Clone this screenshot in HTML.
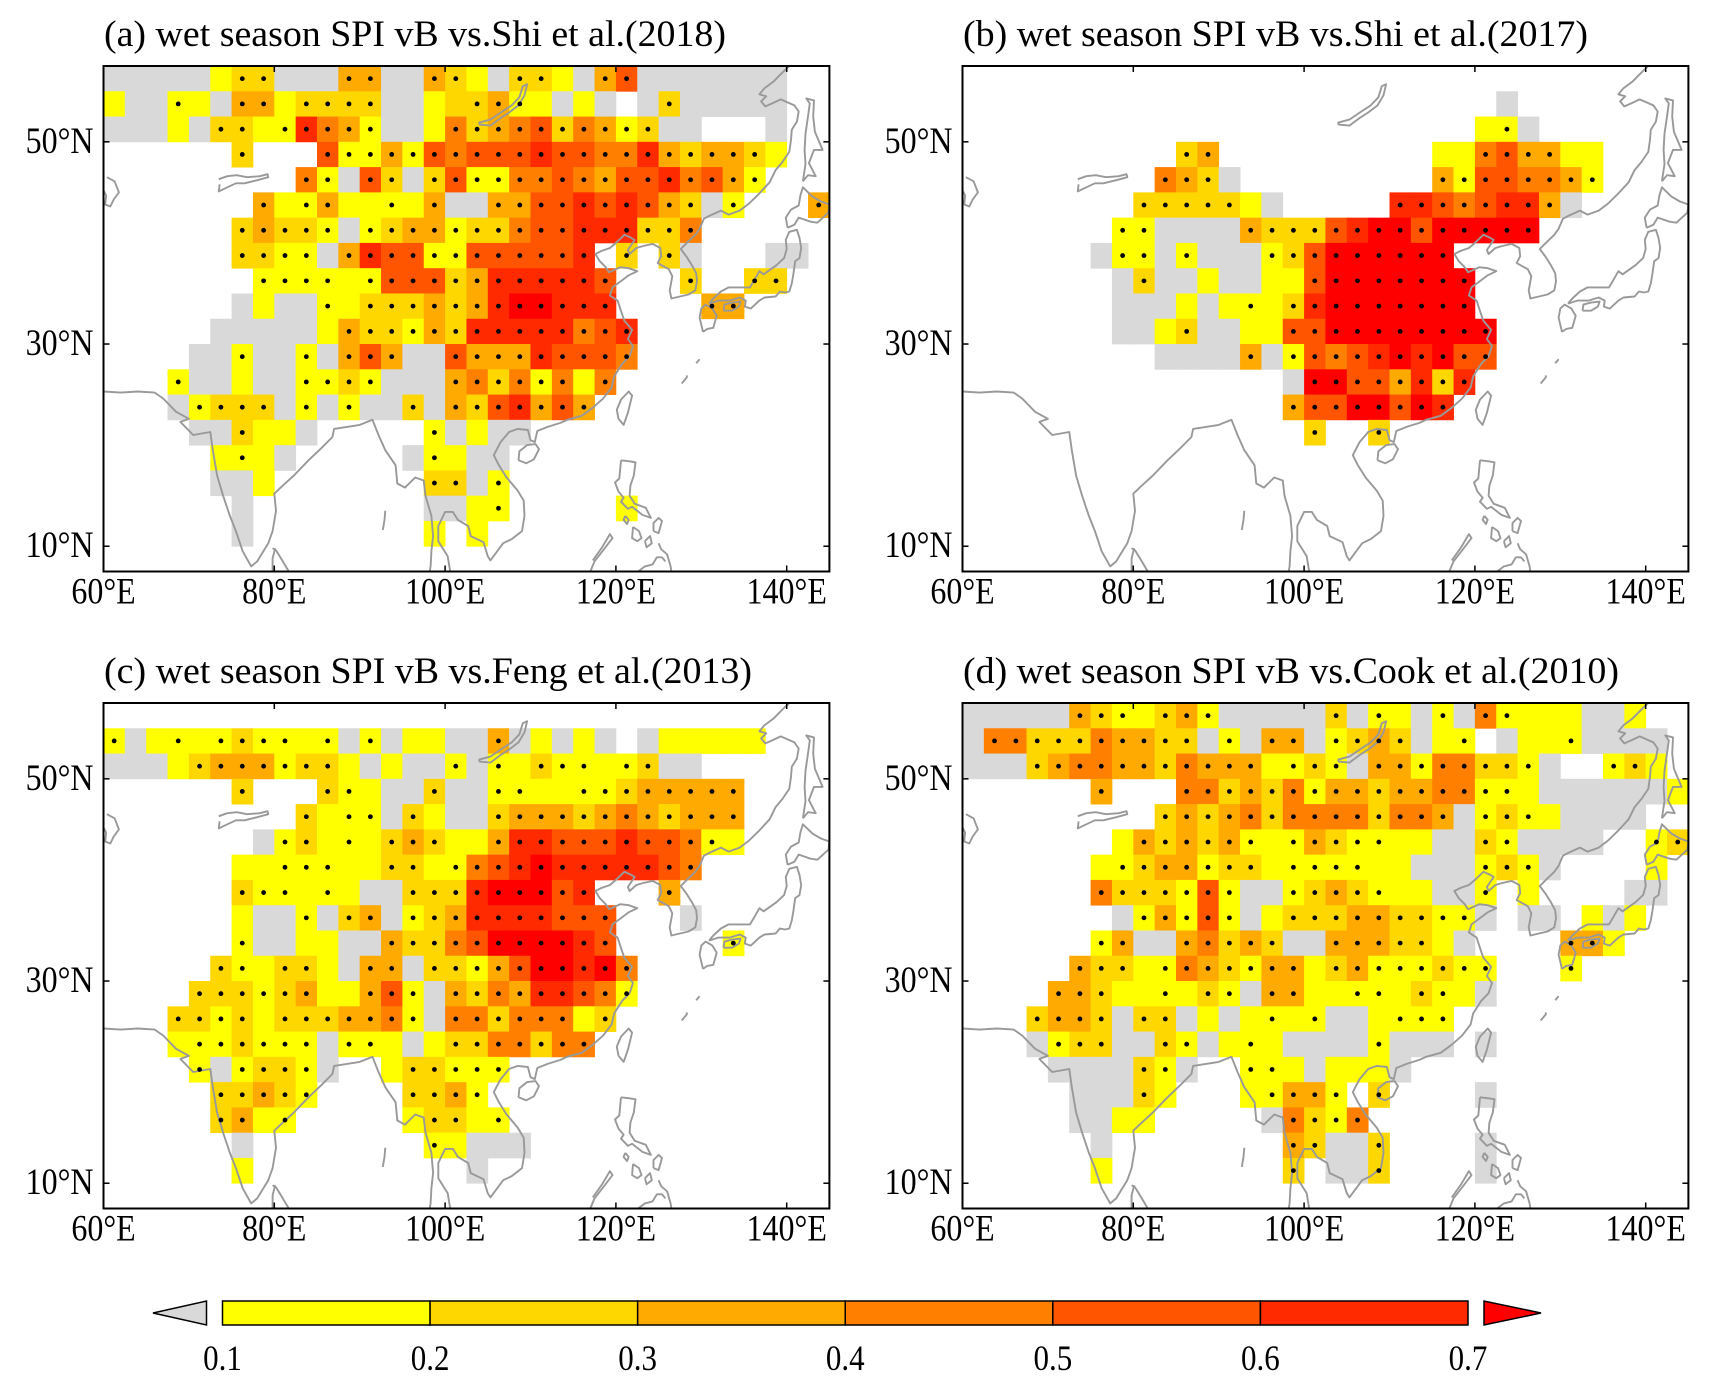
<!DOCTYPE html>
<html><head><meta charset="utf-8"><style>
html,body{margin:0;padding:0;background:#fff;}
svg{display:block;font-family:"Liberation Serif",serif;}
</style></head><body>
<svg id="fig" width="1709" height="1387" viewBox="0 0 1709 1387" xmlns="http://www.w3.org/2000/svg">
<defs>
<clipPath id="clipA"><rect x="103.5" y="66" width="725.9" height="505.5"/></clipPath>
<clipPath id="clipB"><rect x="962.5" y="66" width="725.9" height="505.5"/></clipPath>
<clipPath id="clipC"><rect x="103.5" y="703" width="725.9" height="505.5"/></clipPath>
<clipPath id="clipD"><rect x="962.5" y="703" width="725.9" height="505.5"/></clipPath>
</defs>
<g id="root"></g>
</svg>
<script>
// Grid codes: '.' none, 'g' grey (<0.1), '1'-'7' classes, 'A'-'G' same classes with significance dot
const gridA = [
"ggggg1BBgggCCggCB1gBB1gCEggggggg..",
"1ggA1gCC1BBBBgg12BCA1g1g.gBggggg..",
"ggg1gBB1AFDCAgg1DBCDEBDCABgg...g..",
"......B...EAACAEDEEEFEEDDFCBCCB1..",
".........DAgEBgBEAADDEDCEEFDECA...",
".......C1AC11A1CggCCEEFEFECBgA...C",
"......BCBBAgABCCABBDEEFFFBBD......",
"......BBAAgCFEEAAEEEEEF.B.Bg...gg.",
".......AAAA1AEEEBCFFFFFE...B..BB..",
"......g1ggA1BBBCBCFGGFFF....CC....",
".....ggggg1CBBACBFFFFFDEF.........",
"....ggAggAgCECggECCCFEEED.........",
"...Agg1ggAABAgggCDBDAD1D..........",
"...gABBBgAgAggBgCBEFCEC...........",
"....ggB11g.....Ag1gg..............",
".....1A1g.....gA1gg...............",
".....gg1.......BBgA...............",
"......g........gg1A.....1.........",
"......g........1.1................",
".................................."
];
const gridB = [
"..................................",
".........................g........",
"........................1Ag.......",
"..........BC..........11DECC11....",
".........DCBg.........CAEEDDCA....",
"........BBBBB1g.....FFEDEFFCg.....",
".......AAggggCBBBEFGGEGGGGG.......",
"......gAAgAgggABEGGGGGG...........",
".......gBgg1gg11EGGGGGGG..........",
".......ggg1g1A1BFGGGGGGG..........",
".......gg1Bgg11EEGGGGGGGG.........",
".........ggggCgAEDEFGFGEE.........",
"...............gGGEECFBF..........",
"...............CEEGGEGF...........",
"................B..B..............",
"..................................",
"..................................",
"..................................",
"..................................",
".................................."
];
const gridC = [
"..................................",
"Ag1A1ABAA1AgAg11ggCg1g1g.g11111...",
"ggg1BCCCABB1g1ggAgA1BAA1ABgg......",
"......B...BA1ggBggAA11AABCCCCC....",
".........B1AAgB1ggBCCCBCDCBCCC....",
".......gAB1A1BCB11CFFEEEFEEDA1....",
"......11AAA11BB1ADEFGFFFFFED......",
"......BAA1A1ggBBBFGGGEF...C.......",
"......1ggAgBCgABCFFFFEEE...g......",
"......Agg11ggCBBDEGGGGFE.....A....",
".....BA1BB1gCCgBBACEGGFGD.........",
"....BBBABC11CEAgCBDCFFEDA.........",
"...BBAB1BBBCCDAgDDBDDD1B..........",
"...1AABAAAgAA1g1BBDDBDD...........",
"....AgABBAg..1BBAAA...............",
".....BBCBA....BBCA................",
".....BC1A.....1BB1A...............",
"......g........A1ggg..............",
"......1..........g................",
".................................."
];
const gridD = [
"gggggCBA1BCAgggggBgA1gAgDA111gg1..",
"gDDBBBDCCBBgAgCCgABCBg1A.g11Agggg.",
"gggBCDDCCBDCCC1ABAgCCADDBBAg..AB1.",
"......C...DDBCBDACCBCCDDAA1gggggg1",
".........BCBCDBDDDDBDDCgABA1gggg..",
".......1CBCBCA1ACBAA11ggBAgggg..AB",
"......1ABCCABB1AAAA11gggABAg....1.",
"......DBBBAEAggABCBA11ggA.1....gg.",
".......gACAEAg1BBBCCBBAAg.gg.1g1..",
"......ACggCDBCBggCCCBB1g....CC1...",
".....CBB1ADCBACC1BCAAABAA...A.....",
"....CCB11A1BAgCC11AA1BA1g.........",
"...BCCBgBBg1g1A1Agg1AAA...........",
"...gABBggBAg1A1ggggAggg.g.........",
"....ggggBAg..AA1g111g.............",
".....gggB1...1ACCA.B....g.........",
".....gg11.....gDBAD...............",
"......g........CBggB....g.........",
"......1........B.ggB....g.........",
".................................."
];
const classColors = ["#ffff00","#ffd700","#ffaa00","#ff8000","#ff5500","#ff2a00","#ff0000"];
const greyColor = "#d9d9d9";
const cbTicks = ["0.1","0.2","0.3","0.4","0.5","0.6","0.7"];
const latTicks = [10,30,50];
const lonTicks = [60,80,100,120,140];
const titles = ["(a) wet season SPI vB vs.Shi et al.(2018)","(b) wet season SPI vB vs.Shi et al.(2017)","(c) wet season SPI vB vs.Feng et al.(2013)","(d) wet season SPI vB vs.Cook et al.(2010)"];

const NS="http://www.w3.org/2000/svg";
const root=document.getElementById('root');
function mk(tag,attrs,parent){const e=document.createElementNS(NS,tag);for(const k in attrs)e.setAttribute(k,attrs[k]);(parent||root).appendChild(e);return e;}
function stretchedText(x,y,sy,attrs,txt){
  const g=mk('g',{transform:`translate(${x},${y}) scale(1,${sy})`});
  const t=mk('text',Object.assign({x:0,y:0},attrs),g);
  t.textContent=txt;
  return t;
}

const coasts=[
[[60,25.3],[62,25.2],[64,25.3],[66,25.2],[67,24.6],[68.5,23.3],[70,22.6],[69,22.3],[70.5,21],[72.5,21.3],[72.8,19.5],[73.3,17],[74,15],[74.8,13],[75.5,11.5],[76.3,9.5],[77.3,8],[78,8.5],[78.5,9.2],[79.3,10.3],[79.8,11.5],[80.2,13.5],[80,15.2],[81,16],[82.3,17],[84,18.5],[85.5,19.7],[86.8,20.8],[87,21.6],[88.5,21.8],[90,22],[91.5,22.5],[92.2,21],[93,19.5],[94.2,18],[94.4,16.2],[95.3,15.8],[96.5,16.8],[97.5,16.5],[97.7,15],[98.4,13],[98.6,11],[98.4,9.5],[98.3,8],[98.2,7.5]],
[[100.6,7.5],[100.3,9],[99.2,10.5],[99.2,12],[100,13.4],[100.9,13.4],[101.5,12.6],[102.7,12],[103,11],[104.5,10.4],[105,9],[105.3,8.6],[106.8,10.3],[107.8,10.7],[109,11.5],[109.3,13],[109.2,14.5],[108.5,15.5],[107.2,16.8],[106.3,18],[105.7,19],[106.5,20.3],[107.5,21.3],[108.5,21.6],[109.7,21.5],[110,20.5],[110.5,20.3],[110.8,21.4],[112,21.8],[113.5,22.2],[114.3,22.5],[116,22.9],[117.3,23.7],[118.5,24.6],[119.5,25.7],[119.8,26.8],[120.7,28],[121.6,28.8],[122,29.8],[121.4,30.5],[121.9,31.4],[121,32.3],[120.7,33],[120.2,34.3],[119.3,34.8],[119.6,35.6],[120.4,36.1],[121.5,36.8],[122.5,37.2],[121.5,37.5],[120.5,37.6],[119.2,37.1],[118.8,37.6],[118.1,38.2],[117.6,38.9],[118.3,39.2],[119.3,39.5],[120,40],[121,40.8],[121.8,40.5],[122.2,40.3],[121.4,39.3],[121.6,38.9],[122.4,39.5],[123.2,39.7],[124.3,39.9],[125.2,39.5],[125.3,38.7],[124.9,38],[126.2,37.4],[126.6,36.7],[126.3,35.3],[126.5,34.5],[127.5,34.7],[128.5,34.9],[129.3,35.3],[129.5,36.2],[129.4,37],[128.9,37.8],[128.3,38.6],[127.6,39.4],[128.3,40],[129.3,40.8],[129.8,41.4],[130.3,42.4],[131,42.7],[132.3,43.2],[133.2,42.8],[134.5,43.2],[135.6,43.9],[136.8,44.9],[138,46],[138.7,47.2],[139.5,48],[140.3,49],[140.5,50.2],[140.6,51.2],[141.2,52],[141.4,53],[140.9,53.6],[140.1,53.9],[139.3,54.2],[138.3,53.8],[137.5,53.5],[137,54],[137.6,54.5],[136.8,54.7],[137.4,55.3],[138.5,56],[139.2,56.6],[139.8,57.1],[140.3,57.5]],
[[130.2,31.2],[130.7,31.5],[131.4,31.6],[131.8,32.8],[131.3,33.5],[130.5,33.9],[130,33.5],[129.8,32.6],[130.2,31.2]],
[[130.9,34],[132,34.3],[133.3,34.3],[134.5,34.6],[135.2,34.3],[135.1,33.7],[135.8,33.5],[136.8,34.3],[137.4,34.6],[138.7,34.7],[139.2,35.2],[139.8,35.1],[140.3,35.2],[140.6,36],[140.8,37],[141,38.2],[141.5,38.5],[141.7,39.5],[141.5,40.5],[141.2,41.3],[140.3,41.1],[139.9,40.3],[140,39.4],[139.7,38.5],[138.8,37.8],[137.3,36.9],[136.8,37.2],[136.2,36.3],[135.7,35.6],[134.5,35.6],[133.2,35.6],[132.3,35.2],[131.4,34.5],[130.9,34]],
[[132.6,33.3],[133.6,33.3],[134.4,33.7],[134.6,34.2],[133.6,34.1],[132.7,33.9],[132.6,33.3]],
[[140.1,41.5],[140.9,41.8],[141.4,42.5],[142.8,42.1],[143.6,42],[144.9,43],[145,43.8],[144,44.1],[143,44.6],[141.9,45.5],[141.6,44.7],[141.4,43.7],[140.5,43.3],[139.9,42.5],[140.1,41.5]],
[[141.9,46.1],[142.2,47.8],[142.1,49.2],[142.2,50.8],[142.5,52.5],[142.7,53.8],[142.3,54.3],[143.2,54.1],[143.1,52.5],[143.3,51],[144.2,49.2],[143.2,49.2],[142.6,47.9],[143.4,46.6],[142.5,46.7],[141.9,46.1]],
[[120.3,22.6],[120.1,23.5],[120.6,24.5],[121.5,25.3],[121.9,24.9],[121.4,23.2],[120.9,22],[120.3,22.6]],
[[108.6,18.5],[108.7,19.4],[109.6,20],[110.6,20.1],[111,19.6],[110.4,18.6],[109.5,18.2],[108.6,18.5]],
[[120.6,18.5],[121.6,18.4],[122.3,18.3],[122.1,17],[121.7,16],[121.6,15],[122.2,14.2],[123.5,13.8],[124.1,12.8],[123.1,13.1],[121.9,13.9],[121.4,13.7],[120.6,14.4],[120.9,14.8],[120.3,15.4],[119.9,16.3],[120.4,16.7],[120.6,18.5]],
[[121.1,13],[121.5,12.6],[121.3,12.2],[120.9,12.6],[121.1,13]],
[[122,11.9],[122.7,11.5],[123,10.8],[122.5,10.5],[121.9,10.8],[122,11.9]],
[[123.4,10.5],[124,11],[124.2,10.3],[123.6,9.9],[123.4,10.5]],
[[124.4,11.5],[125,11.3],[125.4,12.5],[125,12.8],[124.4,12.3],[124.4,11.5]],
[[125,10.3],[125.3,9.7],[126,9.2],[126.4,8],[126.5,7.5]],
[[117,7.5],[117.5,8.5],[118.7,9.8],[119.6,10.8],[119.3,11.2],[118.4,9.9],[117.3,8.6]],
[[122.6,7.5],[123.4,8],[124.3,8.2],[124.8,8.9],[125.4,8.9],[125.8,8.5]],
[[79.8,9.8],[80.2,9.6],[81,8.5],[81.7,7.5]],
[[79.8,7.5],[79.8,8.8],[80.1,9.8]],
[[92.7,11.6],[92.9,12.6],[93,13.5]],
[[104,51.7],[105.3,51.6],[106.4,52.3],[107.5,52.9],[108.6,53.6],[109.3,54.6],[109.6,55.7],[109.1,55.5],[108.7,54.4],[107.8,53.6],[106.7,53],[105.3,52.2],[104,51.9],[104,51.7]],
[[73.5,46.3],[74.5,46.6],[75.6,46.7],[76.8,46.5],[78.3,46.6],[79.2,46.8],[79.3,46.5],[78,46.2],[76.5,45.9],[75.5,45.9],[74.5,45.5],[73.5,45.1],[73.6,45.8]],
[[60.4,46.5],[61.3,46.1],[61.8,45],[61.2,44.3],[60.8,43.6],[60.2,43.8],[60.3,44.7],[60,45.2]],
[[127.7,26.1],[128.3,26.7],[128.3,26.9]],
[[129.4,28.1],[129.8,28.5]]
];

const panels=[
{grid:gridA,x0:103.5,y0:66,clip:"clipA",key:"a"},
{grid:gridB,x0:962.5,y0:66,clip:"clipB",key:"b"},
{grid:gridC,x0:103.5,y0:703,clip:"clipC",key:"c"},
{grid:gridD,x0:962.5,y0:703,clip:"clipD",key:"d"}
];
const KX=8.54, KY=10.11, W=85*KX, H=50*KY;

panels.forEach((p,pi)=>{
  const xs=lon=>p.x0+(lon-60)*KX;
  const ys=lat=>p.y0+(57.5-lat)*KY;
  const g=mk('g',{'clip-path':'url(#'+p.clip+')'});
  
  
  const dots=[];
  p.grid.forEach((row,r)=>{
    for(let c=0;c<row.length;c++){
      const ch=row[c];
      if(ch==='.')continue;
      let fill;
      if(ch==='g')fill=greyColor;
      else{
        const up=ch>='A'&&ch<='G';
        const idx=up?ch.charCodeAt(0)-65:parseInt(ch)-1;
        fill=classColors[idx];
        if(up)dots.push([60+2.5*c+1.25,57.5-2.5*r-1.25]);
      }
      const x1=xs(60+2.5*c),x2=xs(60+2.5*(c+1)),y1=ys(57.5-2.5*r),y2=ys(57.5-2.5*(r+1));
      const rc=mk('rect',{x:x1.toFixed(2),y:y1.toFixed(2),width:(x2-x1+0.4).toFixed(2),height:(y2-y1+0.4).toFixed(2),fill:fill},g);
      
      
    }
  });
  coasts.forEach(line=>{
    const pl=mk('polyline',{points:line.map(q=>xs(q[0]).toFixed(1)+','+ys(q[1]).toFixed(1)).join(' '),fill:'none',stroke:'#999999','stroke-width':1.9,'stroke-linejoin':'round'},g);
    
    
  });
  dots.forEach(d=>{
    const ci=mk('circle',{cx:xs(d[0]).toFixed(2),cy:ys(d[1]).toFixed(2),r:2.4,fill:'#000'},g);
    
    
  });
  const fr=mk('rect',{x:p.x0,y:p.y0,width:W,height:H,fill:'none',stroke:'#000','stroke-width':2});
  
  
  latTicks.forEach(lat=>{
    const y=ys(lat);
    mk('line',{x1:p.x0,x2:p.x0+6,y1:y,y2:y,stroke:'#000','stroke-width':1.5});
    mk('line',{x1:p.x0+W,x2:p.x0+W-6,y1:y,y2:y,stroke:'#000','stroke-width':1.5});
    const t=stretchedText(p.x0-10,y+11,1.15,{'font-size':32,'text-anchor':'end'},lat+'°N');
    
    
  });
  lonTicks.forEach(lon=>{
    const x=xs(lon);
    mk('line',{x1:x,x2:x,y1:p.y0,y2:p.y0+6,stroke:'#000','stroke-width':1.5});
    mk('line',{x1:x,x2:x,y1:p.y0+H,y2:p.y0+H-6,stroke:'#000','stroke-width':1.5});
    const t=stretchedText(x,p.y0+H+32,1.15,{'font-size':32,'text-anchor':'middle'},lon+'°E');
    
    
  });
  const tl=stretchedText(p.x0+0.5,p.y0-20,1.12,{'font-size':33,textLength:(pi===0?622:pi===1?625:pi===2?648:656),lengthAdjust:'spacingAndGlyphs'},titles[pi]);
  
  
});

// colorbar
const cbX0=222.5, cbX1=1468, cbY=1301, cbH=24;
const lt=mk('polygon',{points:`${cbX0-16},${cbY} ${cbX0-16},${cbY+cbH} 153,${cbY+cbH/2}`,fill:greyColor,stroke:'#000','stroke-width':1.5});


classColors.slice(0,6).forEach((c,i)=>{
  const r=mk('rect',{x:cbX0+i*(cbX1-cbX0)/6,y:cbY,width:(cbX1-cbX0)/6,height:cbH,fill:c,stroke:'#000','stroke-width':1.5});
  
  
});
const rt=mk('polygon',{points:`${cbX1+16},${cbY} ${cbX1+16},${cbY+cbH} 1541,${cbY+cbH/2}`,fill:classColors[6],stroke:'#000','stroke-width':1.5});


cbTicks.forEach((s,i)=>{
  const t=stretchedText(cbX0+i*(cbX1-cbX0)/6,1370,1.15,{'font-size':31,'text-anchor':'middle'},s);
  
  
});
</script>
</body></html>
